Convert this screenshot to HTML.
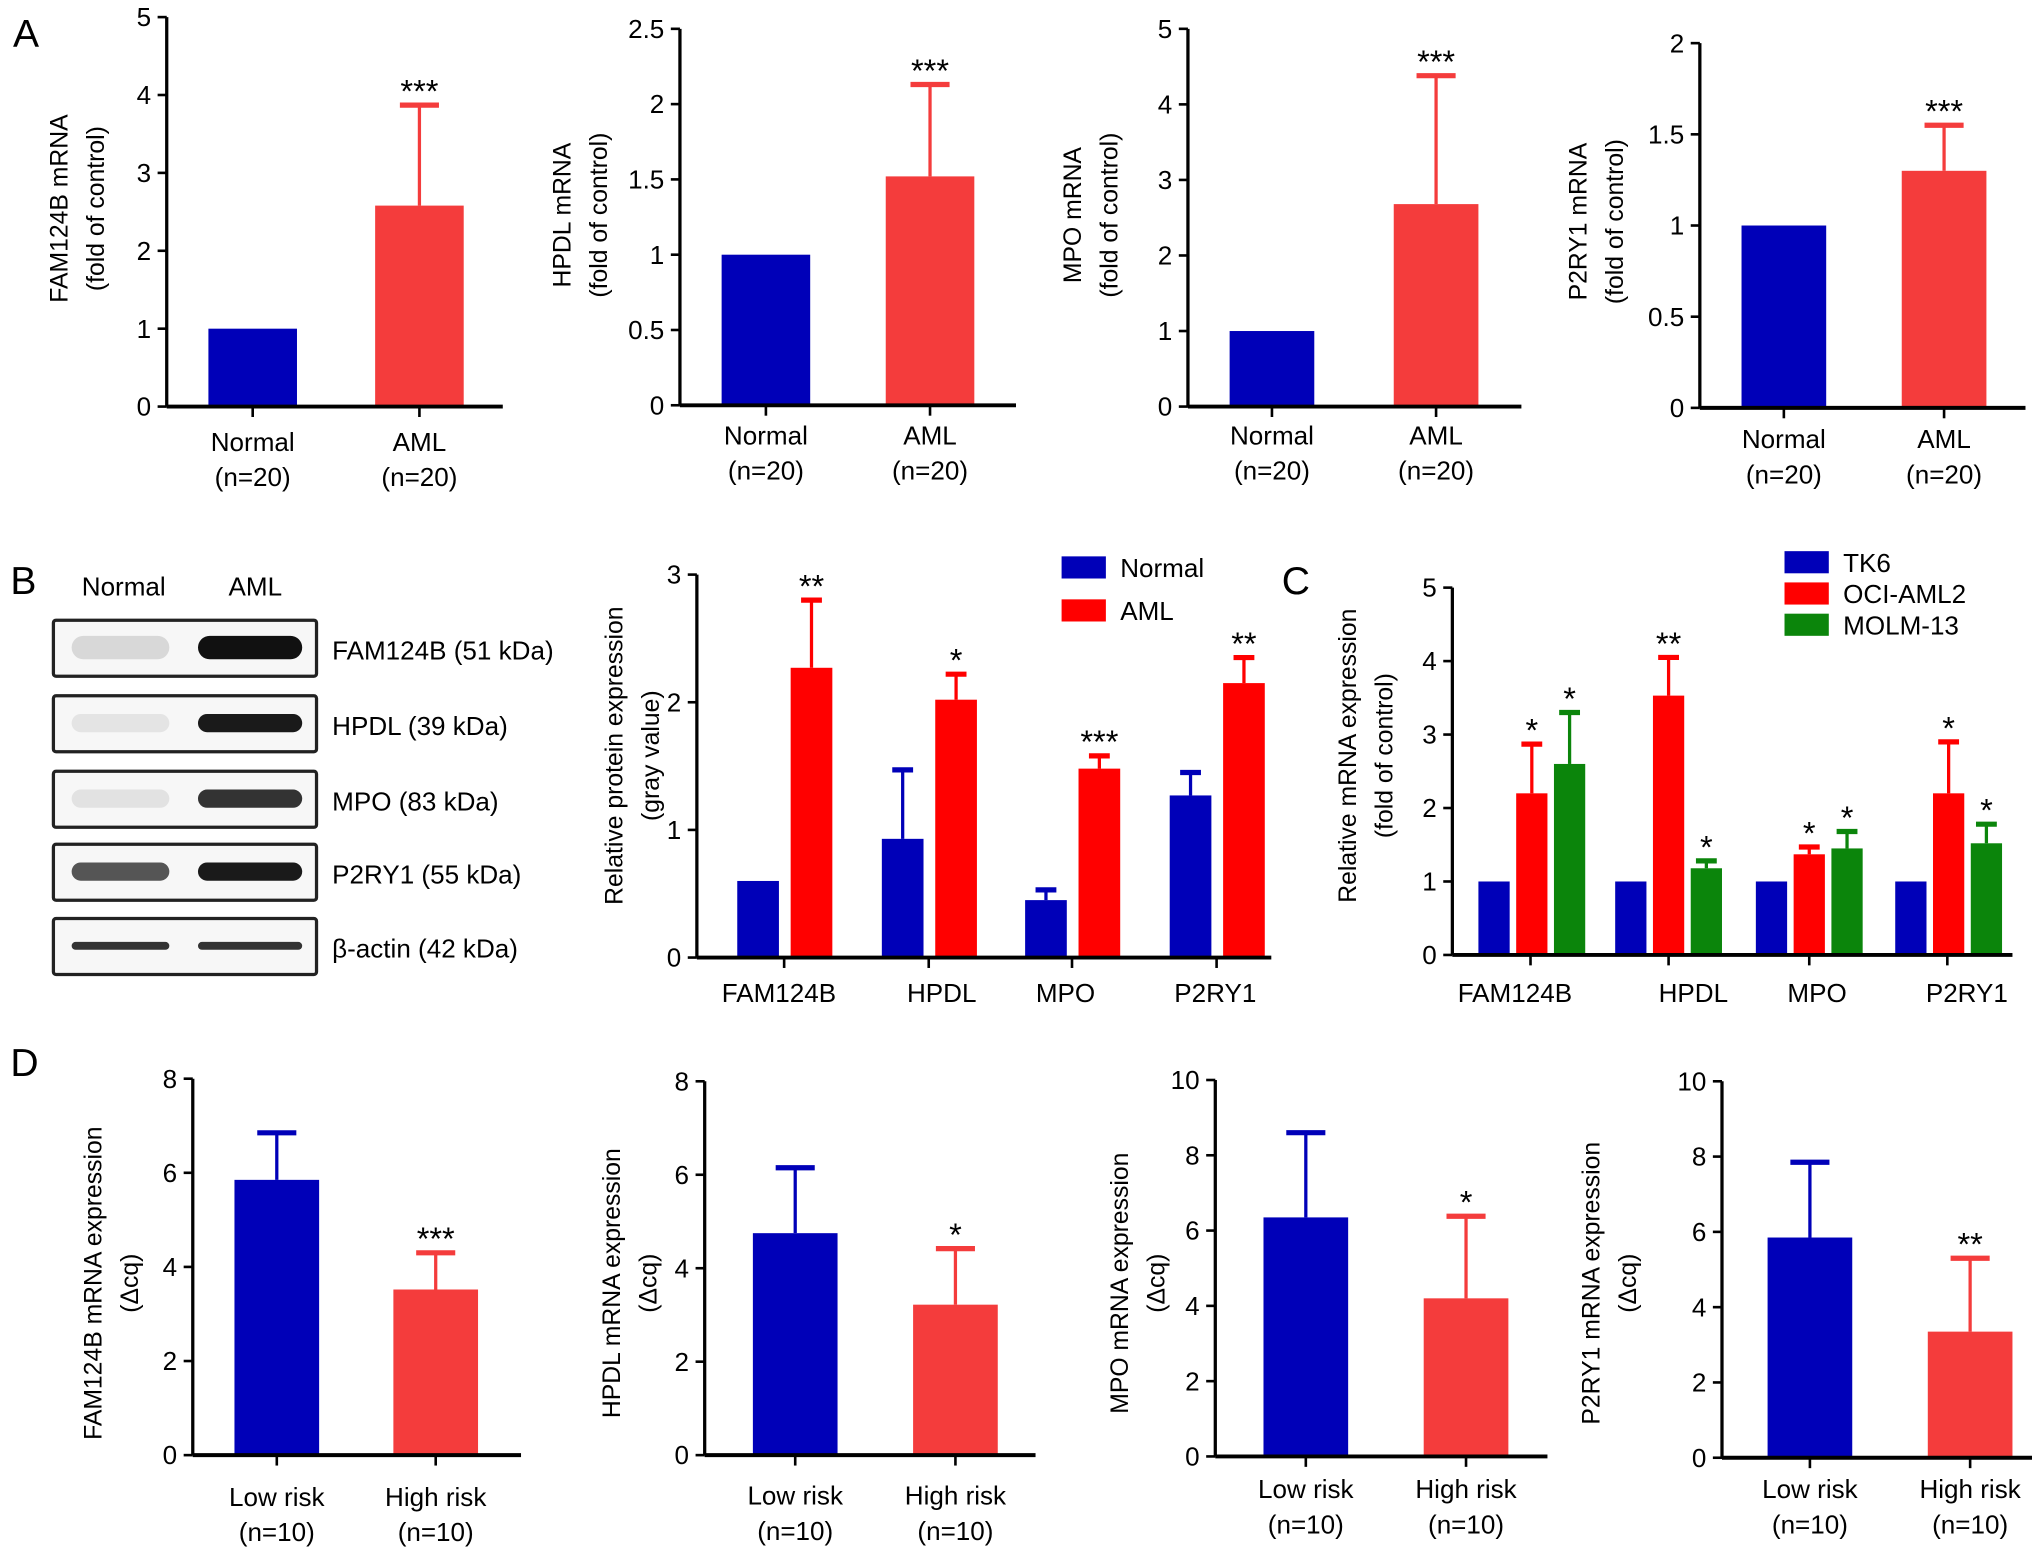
<!DOCTYPE html>
<html><head><meta charset="utf-8"><style>
html,body{margin:0;padding:0;background:#fff;}
svg{display:block;font-family:"Liberation Sans",sans-serif;}
</style></head><body>
<svg id="fig" width="2032" height="1553" viewBox="0 0 1560 1192" xmlns="http://www.w3.org/2000/svg">
<rect width="1560" height="1192" fill="#fff"/>
<g font-size="30" fill="#000">
<text x="10" y="36">A</text>
<text x="8" y="456">B</text>
<text x="984" y="456">C</text>
<text x="8" y="826">D</text>
</g>
<g id="blot"></g>
</svg>
<script>
// ---- data ----
const catsA = ["Normal","AML"];
const subA = ["(n=20)","(n=20)"];
const famA = [1.0, 2.58]; const famAErr = [1.0, 3.87];
const hpdlA = [1.0, 1.52]; const hpdlAErr = [1.0, 2.13];
const mpoA = [1.0, 2.68]; const mpoAErr = [1.0, 4.38];
const p2A = [1.0, 1.30]; const p2AErr = [1.0, 1.55];
const ticksA1 = [0,1,2,3,4,5];
const ticksA2 = [0,0.5,1,1.5,2,2.5];
const ticksA4 = [0,0.5,1,1.5,2];
const sigA = ["","***"];

const catsB = ["FAM124B","HPDL","MPO","P2RY1"];
const normalB = [0.6, 0.93, 0.45, 1.27];
const normalBErr = [0.6, 1.47, 0.53, 1.45];
const amlB = [2.27, 2.02, 1.48, 2.15];
const amlBErr = [2.8, 2.22, 1.58, 2.35];
const sigB = ["**","*","***","**"];
const ticksB = [0,1,2,3];

const catsC = ["FAM124B","HPDL","MPO","P2RY1"];
const tk6C = [1,1,1,1];
const ociC = [2.2, 3.53, 1.37, 2.2];
const ociCErr = [2.87, 4.05, 1.47, 2.9];
const molmC = [2.6, 1.18, 1.45, 1.52];
const molmCErr = [3.3, 1.28, 1.68, 1.78];
const sigOciC = ["*","**","*","*"];
const sigMolmC = ["*","*","*","*"];
const ticksC = [0,1,2,3,4,5];

const catsD = ["Low risk","High risk"];
const subD = ["(n=10)","(n=10)"];
const famD = [5.85, 3.52]; const famDErr = [6.85, 4.3];
const hpdlD = [4.75, 3.22]; const hpdlDErr = [6.15, 4.42];
const mpoD = [6.35, 4.2]; const mpoDErr = [8.6, 6.38];
const p2D = [5.85, 3.35]; const p2DErr = [7.85, 5.3];
const ticksD8 = [0,2,4,6,8];
const ticksD10 = [0,2,4,6,8,10];
const sigD1 = ["","***"], sigD2 = ["","*"], sigD3 = ["","*"], sigD4 = ["","**"];

const blotLabels = ["FAM124B (51 kDa)","HPDL (39 kDa)","MPO (83 kDa)","P2RY1 (55 kDa)","β-actin (42 kDa)"];

// ---- drawing ----
const NS="http://www.w3.org/2000/svg";
const svg=document.getElementById('fig');
function mk(tag,attrs,parent){const e=document.createElementNS(NS,tag);for(const k in attrs)e.setAttribute(k,attrs[k]);(parent||svg).appendChild(e);return e;}

function twoBarChart(o){
  const g=mk('g',{});
  
  
  const yMax=o.ticks[o.ticks.length-1];
  const y=v=>o.y0-(o.y0-o.yTop)*v/yMax;
  o.vals.forEach((v,i)=>{
    const bx=o.barX[i], w=o.barW, cx=bx+w/2;
    if(o.err[i]>v){
      const l=mk('line',{x1:cx,x2:cx,y1:y(v),y2:y(o.err[i]),stroke:o.colors[i],'stroke-width':2.5},g);
      
      
      const c=mk('line',{x1:cx-15,x2:cx+15,y1:y(o.err[i]),y2:y(o.err[i]),stroke:o.colors[i],'stroke-width':4},g);
      
      
    }
    const r=mk('rect',{x:bx,y:y(v),width:w,height:o.y0-y(v),fill:o.colors[i]},g);
    
    
    if(o.sig[i]){
      const s=mk('text',{x:cx,y:y(Math.max(v,o.err[i]))-2,'font-size':25,'text-anchor':'middle'},g);
      s.textContent=o.sig[i];
      
      
    }
    mk('line',{x1:cx,x2:cx,y1:o.y0,y2:o.y0+8,stroke:'#000','stroke-width':2},g);
    const t=mk('text',{x:cx,y:o.labY,'font-size':20,'text-anchor':'middle'},g);
    t.textContent=o.cats[i];
    
    
    const t2=mk('text',{x:cx,y:o.labY+27,'font-size':20,'text-anchor':'middle'},g);
    t2.textContent=o.sub[i];
    
    
  });
  axes(g,o,y);
}
function axes(g,o,y){
  const ax=mk('line',{x1:o.ax,x2:o.ax,y1:o.y0,y2:o.yTop,stroke:'#000','stroke-width':2.5},g);
  
  
  const xa=mk('line',{x1:o.ax,x2:o.axEnd,y1:o.y0,y2:o.y0,stroke:'#000','stroke-width':3},g);
  
  
  o.ticks.forEach(tv=>{
    mk('line',{x1:o.ax-7,x2:o.ax,y1:y(tv),y2:y(tv),stroke:'#000','stroke-width':2},g);
    const t=mk('text',{x:o.ax-12,y:y(tv)+7,'font-size':20,'text-anchor':'end'},g);
    t.textContent=String(tv);
    
    
  });
  const cy=o.titleY;
  const t1=mk('text',{x:0,y:0,'font-size':19,'text-anchor':'middle',transform:`translate(${o.titleX},${cy}) rotate(-90)`},g);
  t1.textContent=o.title[0];
  
  
  const t2=mk('text',{x:0,y:0,'font-size':19,'text-anchor':'middle',transform:`translate(${o.titleX+28},${cy}) rotate(-90)`},g);
  t2.textContent=o.title[1];
  
  
}

const BLUE="#0000b8", REDA="#f43c3c", RED="#ff0000", GREEN="#0b850b";
twoBarChart({name:'chart-a-fam124b',cats:catsA,sub:subA,vals:famA,err:famAErr,sig:sigA,ticks:ticksA1,ax:128,axEnd:386,y0:312,yTop:13,barX:[160,288],barW:68,colors:[BLUE,REDA],labY:346,title:["FAM124B mRNA","(fold of control)"],titleX:52,titleY:160});
twoBarChart({name:'chart-a-hpdl',cats:catsA,sub:subA,vals:hpdlA,err:hpdlAErr,sig:sigA,ticks:ticksA2,ax:522,axEnd:780,y0:311,yTop:22,barW:68,colors:[BLUE,REDA],labY:341,title:["HPDL mRNA","(fold of control)"],titleX:438,titleY:165,barX:[554,680]});
twoBarChart({name:'chart-a-mpo',cats:catsA,sub:subA,vals:mpoA,err:mpoAErr,sig:sigA,ticks:ticksA1,ax:912,axEnd:1168,y0:312,yTop:22,barX:[944,1070],barW:65,colors:[BLUE,REDA],labY:341,title:["MPO mRNA","(fold of control)"],titleX:830,titleY:165});
twoBarChart({name:'chart-a-p2ry1',cats:catsA,sub:subA,vals:p2A,err:p2AErr,sig:sigA,ticks:ticksA4,ax:1305,axEnd:1555,y0:313,yTop:33,barX:[1337,1460],barW:65,colors:[BLUE,REDA],labY:344,title:["P2RY1 mRNA","(fold of control)"],titleX:1218,titleY:170});
twoBarChart({name:'chart-d-fam124b',cats:catsD,sub:subD,vals:famD,err:famDErr,sig:sigD1,ticks:ticksD8,ax:148,axEnd:400,y0:1117,yTop:828,barX:[180,302],barW:65,colors:[BLUE,REDA],labY:1156,title:["FAM124B mRNA expression","(Δcq)"],titleX:78,titleY:985});
twoBarChart({name:'chart-d-hpdl',cats:catsD,sub:subD,vals:hpdlD,err:hpdlDErr,sig:sigD2,ticks:ticksD8,ax:541,axEnd:795,y0:1117,yTop:830,barX:[578,701],barW:65,colors:[BLUE,REDA],labY:1155,title:["HPDL mRNA expression","(Δcq)"],titleX:476,titleY:985});
twoBarChart({name:'chart-d-mpo',cats:catsD,sub:subD,vals:mpoD,err:mpoDErr,sig:sigD3,ticks:ticksD10,ax:933,axEnd:1188,y0:1118,yTop:829,barX:[970,1093],barW:65,colors:[BLUE,REDA],labY:1150,title:["MPO mRNA expression","(Δcq)"],titleX:866,titleY:985});
twoBarChart({name:'chart-d-p2ry1',cats:catsD,sub:subD,vals:p2D,err:p2DErr,sig:sigD4,ticks:ticksD10,ax:1322,axEnd:1560,y0:1119,yTop:830,barX:[1357,1480],barW:65,colors:[BLUE,REDA],labY:1150,title:["P2RY1 mRNA expression","(Δcq)"],titleX:1228,titleY:985});

function groupChart(o){
  const g=mk('g',{});
  
  
  const yMax=o.ticks[o.ticks.length-1];
  const y=v=>o.y0-(o.y0-o.yTop)*v/yMax;
  o.cats.forEach((c,i)=>{
    const gx=o.groupX[i];
    o.series.forEach((s,j)=>{
      const v=s.vals[i], bx=gx+j*o.step, cx=bx+o.barW/2;
      const e=s.err?s.err[i]:v;
      if(e>v){
        const l=mk('line',{x1:cx,x2:cx,y1:y(v),y2:y(e),stroke:s.color,'stroke-width':2.5},g);
        
        
        const cp=mk('line',{x1:cx-8,x2:cx+8,y1:y(e),y2:y(e),stroke:s.color,'stroke-width':4},g);
        
        
      }
      const r=mk('rect',{x:bx,y:y(v),width:o.barW,height:o.y0-y(v),fill:s.color},g);
      
      
      if(s.sig&&s.sig[i]){
        const t=mk('text',{x:cx,y:y(Math.max(v,e))+(o.starDy||0),'font-size':25,'text-anchor':'middle'},g);
        t.textContent=s.sig[i];
        
        
      }
    });
    const tx=o.tickX[i];
    mk('line',{x1:tx,x2:tx,y1:o.y0,y2:o.y0+8,stroke:'#000','stroke-width':2},g);
    const t=mk('text',{x:o.labX[i],y:o.labY,'font-size':20,'text-anchor':'middle'},g);
    t.textContent=c;
    
    
  });
  axes(g,o,y);
  o.series.forEach((s,j)=>{
    const ly=o.legY+j*o.legStep;
    const r=mk('rect',{x:o.legX,y:ly,width:34,height:17,fill:s.color},g);
    
    
    const t=mk('text',{x:o.legX+45,y:ly+16,'font-size':20},g);
    t.textContent=s.label;
    
    
  });
}
groupChart({name:'chart-b-protein',cats:catsB,ticks:ticksB,ax:535,axEnd:976,y0:735,yTop:441,
  groupX:[566,677,787,898],step:41,barW:32,tickX:[602,713,823,934],labX:[598,723,818,933],labY:769,starDy:-2,
  series:[{key:'normal',label:'Normal',color:BLUE,vals:normalB,err:normalBErr},{key:'aml',label:'AML',color:RED,vals:amlB,err:amlBErr,sig:sigB}],
  title:["Relative protein expression","(gray value)"],titleX:478,titleY:580,legX:815,legY:427,legStep:33});
groupChart({name:'chart-c-cell-lines',cats:catsC,ticks:ticksC,ax:1115,axEnd:1545,y0:733,yTop:451,
  groupX:[1135,1240,1348,1455],step:29,barW:24,tickX:[1175,1281,1389,1495],labX:[1163,1300,1395,1510],labY:769,starDy:-2,
  series:[{key:'tk6',label:'TK6',color:BLUE,vals:tk6C},{key:'oci-aml2',label:'OCI-AML2',color:RED,vals:ociC,err:ociCErr,sig:sigOciC},{key:'molm-13',label:'MOLM-13',color:GREEN,vals:molmC,err:molmCErr,sig:sigMolmC}],
  title:["Relative mRNA expression","(fold of control)"],titleX:1041,titleY:580,legX:1370,legY:423,legStep:24});

const bg=document.getElementById('blot');
const t1=mk('text',{x:95,y:457,'font-size':20,'text-anchor':'middle'},bg);t1.textContent="Normal";

const t2=mk('text',{x:196,y:457,'font-size':20,'text-anchor':'middle'},bg);t2.textContent="AML";

const rowsY=[476,534,592,648,705];
const nDark=["#d8d8d8","#e4e4e4","#e2e2e2","#555","#333"];
const aDark=["#111","#1a1a1a","#333","#1a1a1a","#333"];
blotLabels.forEach((lab,i)=>{
  const y0=rowsY[i];
  const r=mk('rect',{x:41,y:y0,width:202,height:43,fill:'#f7f7f7',stroke:'#222','stroke-width':2.5,rx:2},bg);
  
  const hh=i==4?6:(i==0?18:14);
  mk('rect',{x:55,y:y0+21-hh/2,width:75,height:hh,fill:nDark[i],rx:hh/2},bg);
  mk('rect',{x:152,y:y0+21-hh/2,width:80,height:hh,fill:aDark[i],rx:hh/2},bg);
  const t=mk('text',{x:255,y:y0+30,'font-size':20},bg);t.textContent=lab;
  
});
</script>
</body></html>
